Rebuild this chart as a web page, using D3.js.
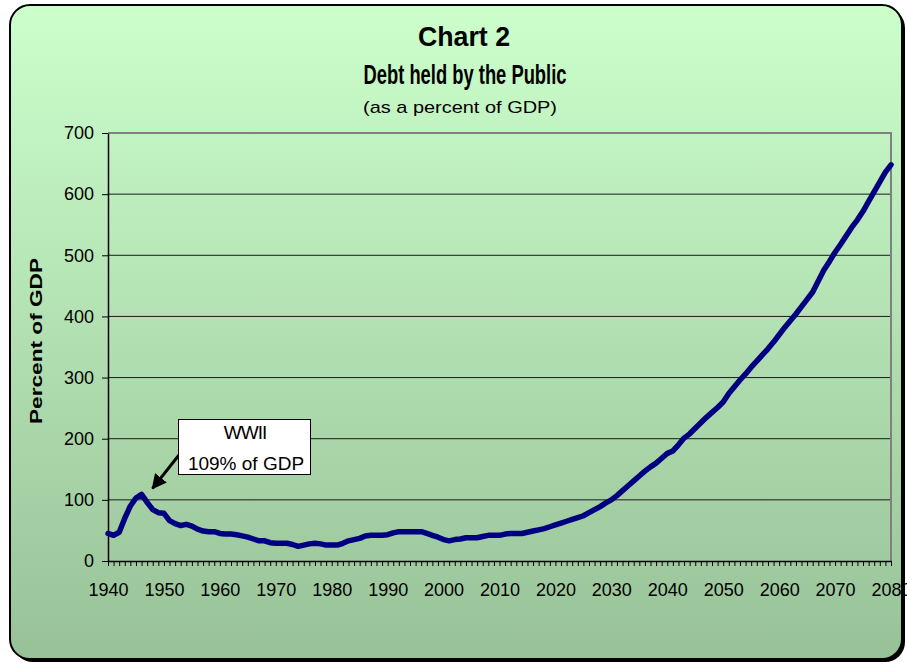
<!DOCTYPE html>
<html>
<head>
<meta charset="utf-8">
<script src="https://cdn.jsdelivr.net/npm/d3@7"></script>
<style>
  body { margin: 0; background: #fff; }
  svg { display: block; font-family: "Liberation Sans", Arial, sans-serif; }
</style>
</head>
<body>
<script>
var years = [
  1940, 1941, 1942, 1943, 1944, 1945, 1946, 1947, 1948, 1949,
  1950, 1951, 1952, 1953, 1954, 1955, 1956, 1957, 1958, 1959,
  1960, 1961, 1962, 1963, 1964, 1965, 1966, 1967, 1968, 1969,
  1970, 1971, 1972, 1973, 1974, 1975, 1976, 1977, 1978, 1979,
  1980, 1981, 1982, 1983, 1984, 1985, 1986, 1987, 1988, 1989,
  1990, 1991, 1992, 1993, 1994, 1995, 1996, 1997, 1998, 1999,
  2000, 2001, 2002, 2003, 2004, 2005, 2006, 2007, 2008, 2009,
  2010, 2011, 2012, 2013, 2014, 2015, 2016, 2017, 2018, 2019,
  2020, 2021, 2022, 2023, 2024, 2025, 2026, 2027, 2028, 2029,
  2030, 2031, 2032, 2033, 2034, 2035, 2036, 2037, 2038, 2039,
  2040, 2041, 2042, 2043, 2044, 2045, 2046, 2047, 2048, 2049,
  2050, 2051, 2052, 2053, 2054, 2055, 2056, 2057, 2058, 2059,
  2060, 2061, 2062, 2063, 2064, 2065, 2066, 2067, 2068, 2069,
  2070, 2071, 2072, 2073, 2074, 2075, 2076, 2077, 2078, 2079,
  2080
];

// debt held by the public, percent of GDP
var debt = [
   45,  42,  47,  70,  90, 103, 109,  96,  84,  79,
   78,  66,  61,  58,  60,  57,  52,  49,  48,  48,
   45,  44,  44,  43,  41,  39,  36,  33,  33,  30,
   29,  29,  29,  27,  24,  26,  28,  29,  28,  26,
   26,  26,  29,  33,  35,  37,  41,  42,  42,  42,
   43,  46,  48,  48,  48,  48,  48,  45,  42,  39,
   35,  33,  35,  36,  38,  38,  38,  40,  42,  42,
   42,  44,  45,  45,  45,  47,  49,  51,  53,  56,
   59,  62,  65,  68,  71,  74,  79,  84,  89,  95,
  100, 107, 115, 123, 131, 139, 147, 154, 160, 168,
  176, 180, 190, 201, 208, 217, 226, 235, 243, 251,
  260, 274, 285, 296, 306, 317, 327, 337, 347, 358,
  370, 382, 393, 404, 416, 428, 440, 458, 476, 490,
  505, 518, 532, 546, 558, 572, 588, 604, 620, 636,
  648
];

var xLabels = [1940, 1950, 1960, 1970, 1980, 1990, 2000, 2010, 2020, 2030, 2040, 2050, 2060, 2070, 2080];
var yTicks  = [0, 100, 200, 300, 400, 500, 600, 700];
var gridTicks = [100, 200, 300, 400, 500, 600];

var
  width  = 907,
  height = 668,
  plot   = { left: 108, right: 891, top: 133, bottom: 561 },
  x      = d3.scaleLinear()
              .domain([1940, 2080])
              .range([plot.left, plot.right]),
  y      = d3.scaleLinear()
              .domain([0, 700])
              .range([plot.bottom, plot.top]),
  svg    = d3.select('body')
              .append('svg')
              .attr('width', width)
              .attr('height', height)
              .attr('viewBox', [0, 0, width, height].join(' '));

var defs = svg.append('defs');

var grad = defs.append('linearGradient')
    .attr('id', 'bg')
    .attr('x1', 0).attr('y1', 0)
    .attr('x2', 0).attr('y2', 1);
grad.append('stop').attr('offset', '0%').attr('stop-color', '#ccffcc');
grad.append('stop').attr('offset', '100%').attr('stop-color', '#98c198');

defs.append('marker')
    .attr('id', 'head')
    .attr('viewBox', '0 0 10 10')
    .attr('refX', 9).attr('refY', 5)
    .attr('markerWidth', 5).attr('markerHeight', 5)
    .attr('markerUnits', 'strokeWidth')
    .attr('orient', 'auto')
  .append('path')
    .attr('d', 'M0,0 L10,5 L0,10 z')
    .attr('fill', '#000');

// frame with drop shadow
svg.append('rect')
    .attr('x', 13).attr('y', 8)
    .attr('width', 892).attr('height', 654)
    .attr('rx', 20).attr('ry', 20)
    .attr('fill', '#000');
svg.append('rect')
    .attr('x', 10).attr('y', 5)
    .attr('width', 892).attr('height', 654)
    .attr('rx', 20).attr('ry', 20)
    .attr('fill', 'url(#bg)')
    .attr('stroke', '#000')
    .attr('stroke-width', 2);

// titles
svg.append('text')
    .attr('x', 464).attr('y', 46)
    .attr('text-anchor', 'middle')
    .attr('font-size', 27).attr('font-weight', 'bold')
    .attr('textLength', 92).attr('lengthAdjust', 'spacingAndGlyphs')
    .text('Chart 2');
svg.append('text')
    .attr('x', 465).attr('y', 84)
    .attr('text-anchor', 'middle')
    .attr('font-size', 27).attr('font-weight', 'bold')
    .attr('textLength', 203).attr('lengthAdjust', 'spacingAndGlyphs')
    .text('Debt held by the Public');
svg.append('text')
    .attr('x', 460).attr('y', 113)
    .attr('text-anchor', 'middle')
    .attr('font-size', 17)
    .attr('textLength', 194).attr('lengthAdjust', 'spacingAndGlyphs')
    .text('(as a percent of GDP)');

// gridlines and plot border
svg.append('g')
    .selectAll('line')
    .data(gridTicks)
    .enter()
    .append('line')
    .attr('x1', plot.left).attr('x2', plot.right)
    .attr('y1', y).attr('y2', y)
    .attr('stroke', '#1a1a1a')
    .attr('stroke-width', 1);

svg.append('path')
    .attr('d', 'M' + plot.left + ',' + y(700) + 'H' + x(2080) + 'V' + y(0))
    .attr('fill', 'none')
    .attr('stroke', '#808080')
    .attr('stroke-width', 2);

// axes
var xAxis = svg.append('g')
    .attr('transform', 'translate(0,' + plot.bottom + ')')
    .call(d3.axisBottom(x)
        .tickValues(years)
        .tickSize(5)
        .tickSizeOuter(0)
        .tickPadding(17)
        .tickFormat(function (d) { return xLabels.indexOf(d) >= 0 ? d : ''; }));

var yAxis = svg.append('g')
    .attr('transform', 'translate(' + plot.left + ',0)')
    .call(d3.axisLeft(y)
        .tickValues(yTicks)
        .tickSize(6)
        .tickSizeOuter(0)
        .tickPadding(8));

[xAxis, yAxis].forEach(function (g) {
  g.select('.domain').attr('stroke', '#000').attr('stroke-width', 1.5);
  g.selectAll('.tick line').attr('stroke', '#000');
  g.selectAll('.tick text')
      .attr('fill', '#000')
      .attr('font-size', 18)
      .attr('font-family', '"Liberation Sans", Arial, sans-serif');
});

svg.append('text')
    .attr('transform', 'translate(42,341) rotate(-90)')
    .attr('text-anchor', 'middle')
    .attr('font-size', 17).attr('font-weight', 'bold')
    .attr('textLength', 166).attr('lengthAdjust', 'spacingAndGlyphs')
    .text('Percent of GDP');

// debt line
var line = d3.line()
    .x(function (d, i) { return x(years[i]); })
    .y(function (d) { return y(d); });

svg.append('path')
    .datum(debt)
    .attr('d', line)
    .attr('fill', 'none')
    .attr('stroke', '#000080')
    .attr('stroke-width', 5.5)
    .attr('stroke-linejoin', 'round')
    .attr('stroke-linecap', 'round');

// WWII callout
var peak = d3.max(debt.slice(0, 20)),
    peakYear = years[debt.indexOf(peak)];

svg.append('line')
    .attr('x1', 179).attr('y1', 455)
    .attr('x2', x(peakYear) + 11).attr('y2', y(peak) - 6)
    .attr('stroke', '#000')
    .attr('stroke-width', 3)
    .attr('marker-end', 'url(#head)');

svg.append('rect')
    .attr('x', 178.5).attr('y', 419.5)
    .attr('width', 132).attr('height', 55)
    .attr('fill', '#fff')
    .attr('stroke', '#000')
    .attr('stroke-width', 1);

svg.append('text')
    .attr('x', 245).attr('y', 439)
    .attr('text-anchor', 'middle')
    .attr('font-size', 19)
    .attr('letter-spacing', -1)
    .text('WWII');
svg.append('text')
    .attr('x', 246).attr('y', 470)
    .attr('text-anchor', 'middle')
    .attr('font-size', 19)
    .text('109% of GDP');
</script>
</body>
</html>
